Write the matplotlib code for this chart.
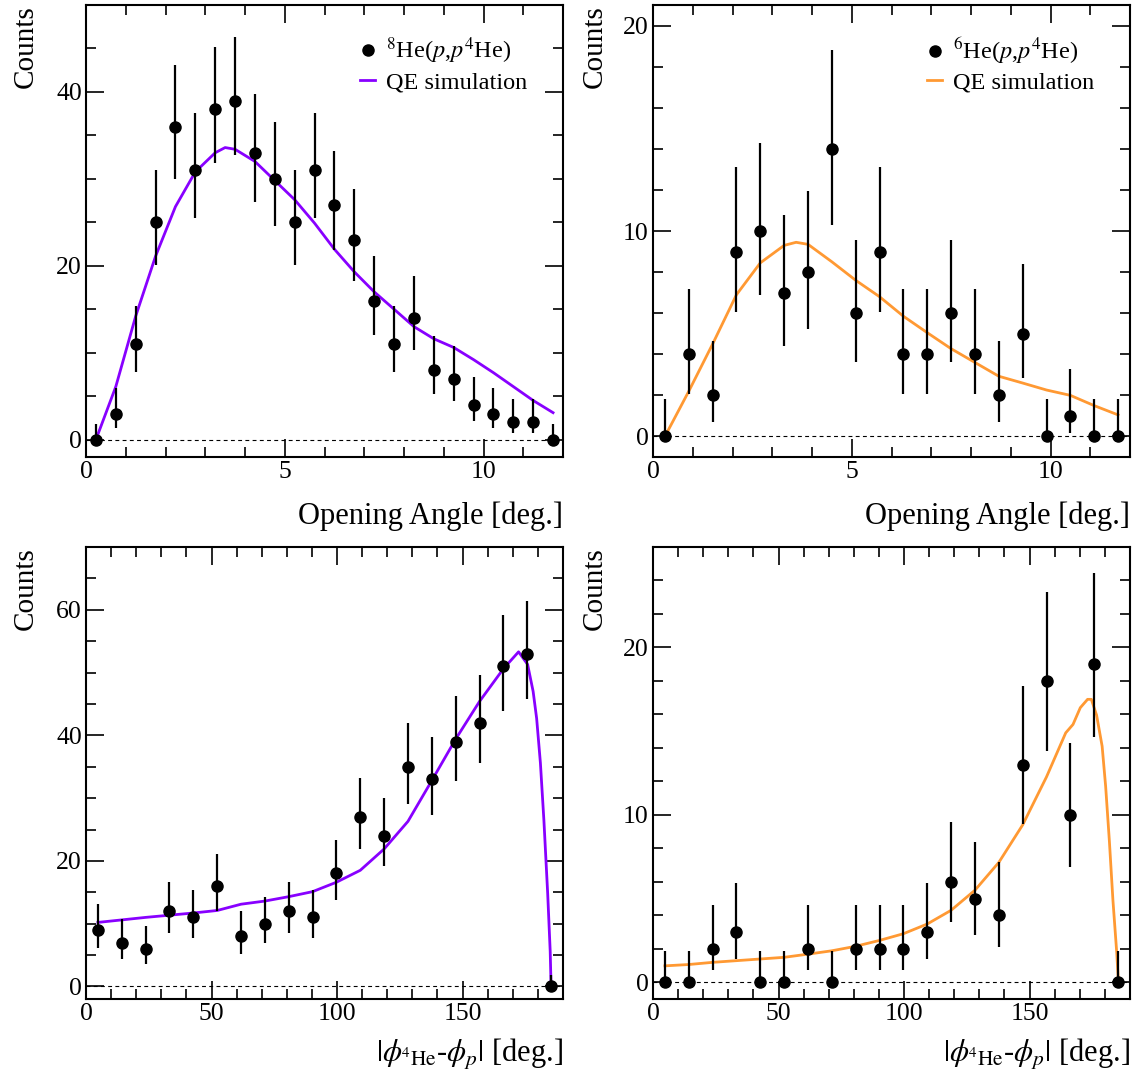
import numpy as np
import matplotlib
matplotlib.use("Agg")
import matplotlib.pyplot as plt
from matplotlib.lines import Line2D
from matplotlib.ticker import MultipleLocator

plt.rcParams['font.family'] = ['Liberation Serif', 'DejaVu Serif']
plt.rcParams['mathtext.fontset'] = 'stix'

# --- data ---
# opening angle, 8He (bins of 0.5 deg) and 6He (bins of 0.6 deg)
angle_8he = np.arange(0.25, 12.0, 0.5)
counts_angle_8he = [0, 3, 11, 25, 36, 31, 38, 39, 33, 30, 25, 31, 27, 23, 16, 11, 14, 8, 7, 4, 3, 2, 2, 0]
angle_6he = np.arange(0.3, 12.0, 0.6)
counts_angle_6he = [0, 4, 2, 9, 10, 7, 8, 14, 6, 9, 4, 4, 6, 4, 2, 5, 0, 1, 0, 0]

# |phi_4He - phi_p|, bins of 9.5 deg
dphi = np.arange(4.75, 190.0, 9.5)
counts_dphi_8he = [9, 7, 6, 12, 11, 16, 8, 10, 12, 11, 18, 27, 24, 35, 33, 39, 42, 51, 53, 0]
counts_dphi_6he = [0, 0, 2, 3, 0, 0, 2, 0, 2, 2, 2, 3, 6, 5, 4, 13, 18, 10, 19, 0]

# QE simulation curves
sim_angle_8he_x = [0.25, 0.75, 1.25, 1.75, 2.25, 2.75, 3.25, 3.5, 3.75, 4.25, 4.75, 5.25, 5.75,
                   6.25, 6.75, 7.25, 7.75, 8.25, 8.75, 9.25, 9.75, 10.25, 10.75, 11.25, 11.75]
sim_angle_8he_y = [0, 6.1, 14.2, 21.1, 26.8, 30.8, 33.0, 33.6, 33.4, 32.0, 29.8, 27.6, 24.9,
                   21.9, 19.3, 17.0, 15.0, 13.0, 11.6, 10.6, 9.2, 7.7, 6.1, 4.5, 3.1]
sim_angle_6he_x = [0.3, 0.9, 1.5, 2.1, 2.7, 3.3, 3.6, 3.9, 4.5, 5.1, 5.7, 6.3, 6.9, 7.5,
                   8.1, 8.7, 9.3, 9.9, 10.5, 11.1, 11.7]
sim_angle_6he_y = [0, 2.2, 4.5, 6.9, 8.45, 9.3, 9.45, 9.35, 8.5, 7.6, 6.8, 5.85, 5.05, 4.27,
                   3.6, 2.93, 2.6, 2.26, 2.0, 1.5, 1.05]
sim_dphi_8he_x = [4.75, 14.25, 23.75, 33.25, 42.75, 52.25, 61.75, 71.25, 80.75, 90.25, 99.75,
                  109.25, 118.75, 128.25, 137.75, 147.25, 156.75, 166.25, 172.3, 175.9, 178.1,
                  179.5, 181.0, 182.4, 183.9, 184.9, 185.25]
sim_dphi_8he_y = [10.2, 10.6, 11.0, 11.35, 11.7, 12.1, 13.1, 13.6, 14.3, 15.1, 16.6, 18.5, 21.9,
                  26.3, 32.8, 39.4, 45.4, 50.6, 53.3, 51.3, 47.0, 42.7, 35.6, 26.4, 14.8, 5.6, 0]
sim_dphi_6he_x = [4.75, 14.25, 23.75, 33.25, 42.75, 52.25, 61.75, 71.25, 80.75, 90.25, 99.75,
                  109.25, 118.75, 128.25, 137.75, 147.25, 156.75, 164.4, 167.3, 170.2, 173.1,
                  174.6, 176.7, 178.9, 180.3, 181.8, 183.2, 184.7, 185.4]
sim_dphi_6he_y = [0.98, 1.06, 1.19, 1.29, 1.39, 1.49, 1.68, 1.88, 2.15, 2.5, 2.9, 3.48, 4.3, 5.5,
                  7.16, 9.4, 12.27, 14.9, 15.4, 16.4, 16.9, 16.9, 15.95, 14.1, 11.7, 8.4, 4.9, 1.8, 0]

PURPLE = '#8800ff'
ORANGE = '#ff9933'


def poisson_cdf(k, mu):
    term = np.exp(-mu)
    total = term
    for i in range(1, k + 1):
        term *= mu / i
        total += term
    return total


def solve_mu(target, k):
    # mu where P(X <= k; mu) == target (cdf falls as mu grows)
    lo, hi = 0.0, k + 60.0
    for _ in range(80):
        mid = 0.5 * (lo + hi)
        if poisson_cdf(k, mid) > target:
            lo = mid
        else:
            hi = mid
    return 0.5 * (lo + hi)


def garwood_errors(counts):
    # 68.3% central Poisson intervals, like ROOT's kPoisson option
    a = 0.5 * (1 - 0.6827)
    lo_err, hi_err = [], []
    for n in counts:
        up = solve_mu(a, n)
        low = 0.0 if n == 0 else solve_mu(1 - a, n - 1)
        lo_err.append(n - low)
        hi_err.append(up - n)
    return [lo_err, hi_err]


W, H = 1138, 1078
fig = plt.figure(figsize=(W / 100, H / 100), dpi=100)


def make_axes(x0, y0):
    return fig.add_axes([x0 / W, 1 - (y0 + 452) / H, 477 / W, 452 / H])


dphi_label = r'$|\phi_{{}^{4}\mathrm{He}}$-$\phi_{p}|$ [deg.]'

panels = [
    dict(pos=(86, 5), x=angle_8he, c=counts_angle_8he, sx=sim_angle_8he_x, sy=sim_angle_8he_y,
         col=PURPLE, xlim=(0, 12), ylim=(-2, 50), xmaj=5, xmin=1, ymaj=20, ymin=5,
         xlabel='Opening Angle [deg.]', xly=-0.098, leg=r'$^{8}$He($p$,$p^{4}$He)', ylx=-0.10),
    dict(pos=(653, 5), x=angle_6he, c=counts_angle_6he, sx=sim_angle_6he_x, sy=sim_angle_6he_y,
         col=ORANGE, xlim=(0, 12), ylim=(-1, 21), xmaj=5, xmin=1, ymaj=10, ymin=2,
         xlabel='Opening Angle [deg.]', xly=-0.098, leg=r'$^{6}$He($p$,$p^{4}$He)', ylx=-0.094),
    dict(pos=(86, 547), x=dphi, c=counts_dphi_8he, sx=sim_dphi_8he_x, sy=sim_dphi_8he_y,
         col=PURPLE, xlim=(0, 190), ylim=(-2, 70), xmaj=50, xmin=10, ymaj=20, ymin=5,
         xlabel=dphi_label, xly=-0.085, leg=None, ylx=-0.10),
    dict(pos=(653, 547), x=dphi, c=counts_dphi_6he, sx=sim_dphi_6he_x, sy=sim_dphi_6he_y,
         col=ORANGE, xlim=(0, 190), ylim=(-1, 26), xmaj=50, xmin=10, ymaj=10, ymin=2,
         xlabel=dphi_label, xly=-0.085, leg=None, ylx=-0.094),
]

for p in panels:
    ax = make_axes(*p['pos'])
    ax.axhline(0, color='k', lw=0.8, ls=(0, (3.5, 3)), zorder=1)
    ax.plot(p['sx'], p['sy'], color=p['col'], lw=2.0, zorder=2)
    ax.errorbar(p['x'], p['c'], yerr=garwood_errors(p['c']), fmt='o', color='k',
                ms=8, elinewidth=1.6, capsize=0, zorder=3)
    ax.set_xlim(*p['xlim'])
    ax.set_ylim(*p['ylim'])
    ax.xaxis.set_major_locator(MultipleLocator(p['xmaj']))
    ax.xaxis.set_minor_locator(MultipleLocator(p['xmin']))
    ax.yaxis.set_major_locator(MultipleLocator(p['ymaj']))
    ax.yaxis.set_minor_locator(MultipleLocator(p['ymin']))
    ax.tick_params(which='both', direction='in', top=True, right=True, width=1.2,
                   labelsize=18.5, pad=3)
    ax.tick_params(which='major', length=13)
    ax.tick_params(which='minor', length=7)
    for s in ax.spines.values():
        s.set_linewidth(1.5)
    ax.set_xlabel(p['xlabel'], fontsize=22, loc='right')
    ax.xaxis.set_label_coords(1.0, p['xly'])
    ax.set_ylabel('Counts', fontsize=21, loc='top')
    ax.yaxis.set_label_coords(p['ylx'], 1.0)
    if p['leg']:
        handles = [Line2D([], [], marker='o', ls='none', color='k', ms=8),
                   Line2D([], [], color=p['col'], lw=2.0)]
        ax.legend(handles, [p['leg'], 'QE simulation'], loc='upper left',
                  bbox_to_anchor=(0.575, 0.932), frameon=False, fontsize=17.5,
                  handlelength=0.6, handletextpad=0.45, labelspacing=0.2,
                  borderpad=0, borderaxespad=0)

fig.savefig('out.png', dpi=100)
